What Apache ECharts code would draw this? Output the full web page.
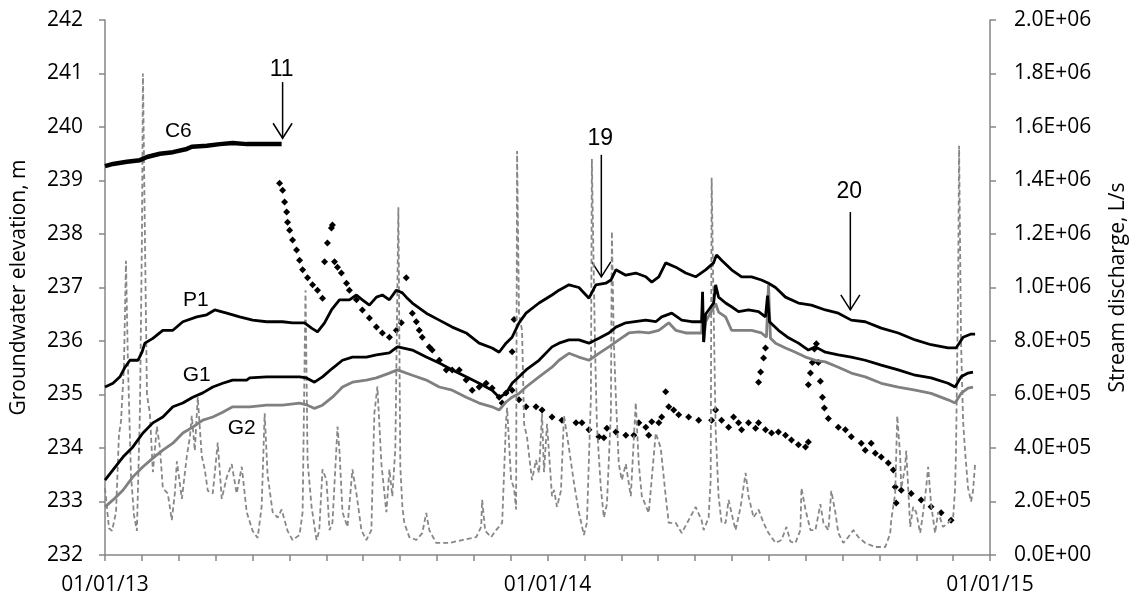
<!DOCTYPE html>
<html>
<head>
<meta charset="utf-8">
<title>Groundwater elevation and stream discharge</title>
<script src="https://cdn.jsdelivr.net/npm/echarts@6.0.0/dist/echarts.min.js"></script>
<style>
	html, body { margin: 0; padding: 0; background: #fff; }
	#chart { width: 1137px; height: 605px; }
</style>
</head>
<body>
<div id="chart"></div>
<script>
// x = days since 01/01/13
var xLabels = ['01/01/13', '01/01/14', '01/01/15'];

// C6 well, elevation m
var c6 = [[0,239.27],[6.6,239.31],[18.1,239.35],[28.8,239.38],[34.6,239.44],[45.3,239.50],[56,239.53],
	[67.5,239.59],[71.6,239.63],[84,239.65],[94.6,239.68],[105.3,239.70],[116.9,239.68],[133.3,239.68],[145.7,239.68]];

// P1 well
var p1 = [[0,235.14],[6.6,235.21],[12.3,235.33],[16.5,235.51],[20.6,235.64],[27.2,235.64],[30.5,235.79],[32.9,235.96],
	[39.5,236.05],[47.7,236.20],[56,236.20],[64.2,236.36],[75.7,236.45],[83.9,236.49],[90.5,236.58],[100.4,236.52],
	[111.1,236.45],[121.8,236.39],[133.3,236.36],[146.5,236.36],[154.7,236.34],[164.6,236.34],[170.4,236.24],
	[175.3,236.17],[181.1,236.34],[186.8,236.58],[193.4,236.77],[201.6,236.77],[207.4,236.86],[212.3,236.77],
	[218.1,236.67],[223.9,236.82],[228.8,236.86],[234.6,236.77],[240.3,236.95],[245.3,236.90],[248.5,236.82],
	[253.5,236.71],[265,236.52],[275.7,236.39],[286.4,236.26],[297.9,236.15],[308.6,235.96],[319.3,235.87],
	[325.1,235.79],[330.8,235.96],[335.8,236.07],[341.5,236.34],[347.3,236.52],[358,236.71],[368.7,236.86],
	[374.5,236.95],[382.7,237.05],[390.9,237.00],[399.2,236.80],[404.9,237.05],[413.1,237.08],[417.3,237.14],
	[421.4,237.33],[429.6,237.23],[437.8,237.27],[446.1,237.20],[451,237.10],[456.8,237.20],[462.5,237.46],
	[470.8,237.38],[479,237.27],[487.2,237.20],[495.4,237.33],[502,237.46],[504.4,237.61],[508.6,237.51],
	[516.8,237.33],[525.1,237.20],[533.3,237.20],[541.5,237.14],[547.3,237.08],[553.1,237.00],[561.3,236.82],
	[572,236.71],[582.7,236.67],[594.2,236.58],[604.9,236.52],[615.6,236.39],[627.1,236.36],[640.3,236.24],
	[654.3,236.15],[668.3,236.02],[681.4,235.93],[695.4,235.87],[702,235.87],[705.3,235.98],[707.8,236.07],
	[714.4,236.13],[717.7,236.13]];

// G1 well
var g1 = [[0,233.40],[6.6,233.59],[14.8,233.83],[23,234.02],[31.3,234.28],[39.5,234.47],[47.7,234.58],[56,234.77],
	[64.2,234.84],[72.4,234.95],[80.7,235.03],[88.9,235.14],[97.1,235.21],[105.3,235.27],[116.9,235.27],
	[119.3,235.31],[133.3,235.33],[146.5,235.33],[160.5,235.33],[166.2,235.31],[172.8,235.23],[179.4,235.33],
	[187.6,235.49],[195.9,235.64],[204.1,235.70],[215.6,235.70],[223.9,235.74],[234.6,235.78],[241.1,235.89],
	[245.3,235.87],[253.5,235.83],[265,235.70],[275.7,235.59],[286.4,235.46],[297.9,235.33],[308.6,235.21],
	[319.3,235.08],[325.1,234.95],[330.8,235.02],[335.8,235.21],[341.5,235.33],[347.3,235.46],[358,235.64],
	[368.7,235.89],[374.5,235.96],[382.7,236.02],[390.9,236.02],[399.2,235.96],[407.4,236.05],[415.6,236.15],
	[421.4,236.26],[429.6,236.34],[446.1,236.39],[454.3,236.36],[459.2,236.45],[467.5,236.52],[475.7,236.39],
	[483.9,236.36],[492.1,236.36],[492.9,236.92],[493.8,235.98],[495.4,236.50],[502,236.71],[503.7,237.05],
	[506.1,236.82],[511.9,236.71],[516.8,236.64],[522.6,236.55],[530.8,236.58],[539.1,236.55],[544.8,236.45],
	[546.5,236.85],[548.1,236.36],[555.5,236.20],[563.8,236.06],[572,235.96],[580.2,235.83],[586,235.89],
	[594.2,235.79],[604.9,235.74],[615.6,235.70],[627.1,235.64],[640.3,235.55],[654.3,235.46],[668.3,235.36],
	[681.4,235.31],[695.4,235.21],[701.2,235.14],[706.1,235.33],[711.9,235.40],[716,235.42]];

// G2 well
var g2 = [[0,232.90],[6.6,233.03],[14.8,233.21],[23,233.46],[31.3,233.65],[39.5,233.81],[47.7,233.96],[56,234.09],
	[64.2,234.28],[72.4,234.39],[80.7,234.52],[88.9,234.58],[97.1,234.67],[105.3,234.77],[119.3,234.77],
	[133.3,234.80],[146.5,234.80],[160.5,234.84],[167.1,234.80],[172.8,234.74],[179.4,234.80],[187.6,234.95],
	[195.9,235.14],[204.1,235.23],[215.6,235.27],[223.9,235.31],[234.6,235.40],[241.1,235.46],[253.5,235.36],
	[265,235.27],[275.7,235.14],[286.4,235.08],[297.9,234.95],[308.6,234.84],[319.3,234.77],[325.1,234.71],
	[330.8,234.86],[335.8,234.95],[341.5,235.02],[347.3,235.14],[358,235.33],[368.7,235.51],[374.5,235.64],
	[382.7,235.77],[390.9,235.70],[399.2,235.64],[407.4,235.77],[415.6,235.89],[423.8,236.02],[432.1,236.15],
	[440.3,236.17],[448.5,236.15],[456.8,236.20],[465,236.34],[470.8,236.20],[479,236.15],[492.1,236.15],
	[492.9,236.60],[493.8,235.98],[495.4,236.36],[503.7,236.70],[506.1,236.54],[511.9,236.45],[516.8,236.20],
	[525.1,236.20],[533.3,236.20],[541.5,236.15],[545.6,236.07],[547.3,237.05],[548.9,236.05],[553.1,235.96],
	[561.3,235.87],[569.5,235.79],[577.8,235.70],[586,235.64],[594.2,235.61],[604.9,235.51],[615.6,235.40],
	[627.1,235.33],[640.3,235.21],[654.3,235.14],[668.3,235.08],[681.4,235.02],[695.4,234.90],[701.2,234.84],
	[706.1,235.02],[711.9,235.12],[716,235.14]];

// well 11 logger readings (markers only)
var w11 = [[144,238.95],[146.5,238.82],[148.1,238.60],[149.8,238.41],[150.6,238.22],[152.3,238.07],[154.7,237.89],
	[158,237.70],[160.5,237.51],[163,237.33],[167.1,237.18],[171.2,237.05],[175.3,236.95],[179.4,236.80],
	[181.1,237.48],[183.5,237.83],[186.8,238.11],[187.6,238.17],[189.3,237.48],[191.8,237.38],[195,237.27],
	[199.2,237.08],[201.6,236.95],[207.4,236.77],[212.3,236.58],[218.1,236.43],[223.9,236.26],[228.8,236.15],
	[234.6,236.07],[240.3,236.20],[244.4,236.34],[248.5,237.18],[253.5,236.52],[256.8,236.36],[259.2,236.20],
	[261.7,236.07],[267.5,235.89],[269.9,235.83],[275.7,235.64],[281.5,235.46],[286.4,235.46],[292.2,235.46],
	[297.9,235.27],[302.9,235.08],[308.6,235.14],[314.4,235.21],[319.3,235.12],[325.1,234.95],[327.6,234.84],
	[330.8,235.03],[335.8,235.08],[337.4,236.40],[335.8,235.80],[341.5,234.90],[347.3,234.77],[355.5,234.77],
	[360.5,234.71],[368.7,234.58],[376.9,234.52],[388.5,234.47],[393.4,234.47],[399.2,234.34],[407.4,234.21],
	[411.5,234.19],[414,234.37],[421.4,234.30],[429.6,234.24],[436.2,234.24],[440.3,234.47],[446.1,234.39],
	[448.5,234.24],[451,234.49],[456.8,234.47],[459.2,234.58],[462.5,235.05],[465,234.77],[469.1,234.71],
	[473.2,234.62],[481.4,234.58],[489.7,234.52],[500.4,234.52],[503.7,234.71],[508.6,234.52],[514.4,234.39],
	[518.5,234.58],[522.6,234.47],[525.1,234.34],[530.8,234.47],[536.6,234.37],[539.1,234.47],[544.8,234.34],
	[549.8,234.28],[555.5,234.30],[561.3,234.24],[566.2,234.15],[572,234.06],[577.8,234.02],[580.2,234.11],
	[539.1,235.23],[540.8,235.42],[543.2,235.68],[544.8,235.87],
	[580.2,235.18],[581.9,235.40],[583.5,235.60],[585.2,235.85],[586.8,235.95],[588.4,235.60],[590.1,235.25],
	[591.8,234.95],[593.4,234.75],[596.7,234.55],[604.9,234.39],[610.7,234.34],[615.6,234.21],[623.8,234.09],
	[627.1,233.96],[632,234.09],[635.4,233.90],[640.3,233.83],[646.1,233.72],[650.2,233.59],[651.8,233.27],
	[652.6,232.97],[656.8,233.21],[665,233.15],[673.2,233.03],[681.4,232.90],[689.7,232.79],[697.9,232.65]];

// stream discharge, L/s (right axis)
var discharge = [[0,2.5e5],[3.3,1.0e5],[5.8,0.9e5],[9.1,1.6e5],[11.5,4.5e5],[13.2,5.0e5],[15.6,7.0e5],[17.3,11.0e5],
	[18.9,7.2e5],[21.4,3.0e5],[23.9,1.5e5],[26.3,0.9e5],[28.8,5.3e5],[30.5,12e5],[31.3,18.0e5],[32.9,12e5],
	[34.6,6.0e5],[37,5.3e5],[39.5,3.1e5],[42.8,4.8e5],[45.3,4.0e5],[47.7,2.5e5],[51.8,2.3e5],[55.1,1.3e5],
	[57.6,2.3e5],[59.3,3.5e5],[63.4,2.1e5],[67.5,3.7e5],[70,4.4e5],[71.6,5.2e5],[74.1,3.9e5],[76.5,5.9e5],
	[79.8,3.7e5],[82.3,3.2e5],[84.8,2.4e5],[88.9,2.3e5],[93,4.2e5],[96.3,2.1e5],[100.4,2.9e5],[104.5,3.4e5],
	[108.6,2.3e5],[112.8,3.3e5],[116.9,1.6e5],[121.8,0.9e5],[125.9,0.64e5],[129.2,1.8e5],[131.7,5.3e5],
	[134.1,3.0e5],[138.3,1.6e5],[142.4,1.4e5],[145.7,1.7e5],[150.6,0.9e5],[154.7,0.56e5],[160.5,0.75e5],
	[163,1.6e5],[165.4,9.9e5],[167.1,3.5e5],[170.4,1.8e5],[174.5,0.56e5],[176.7,0.9e5],[179.4,3.2e5],
	[182.7,2.8e5],[185.2,0.93e5],[187.6,1.2e5],[191.8,4.8e5],[193.4,3.9e5],[195.9,1.6e5],[200,1.05e5],
	[204.1,3.2e5],[207.4,2.3e5],[211.5,0.93e5],[215.6,0.56e5],[219.7,0.93e5],[222.2,5.3e5],[224.7,6.3e5],
	[228,3.4e5],[232.1,1.6e5],[234.6,3.2e5],[237,2.2e5],[239.5,4.0e5],[242,13.0e5],[243.6,3.3e5],[245.3,1.8e5],
	[246.9,1.2e5],[251,0.67e5],[256.8,0.56e5],[261.7,0.82e5],[265,1.57e5],[267.5,0.93e5],[273.2,0.45e5],
	[283.9,0.45e5],[294.6,0.56e5],[306.2,0.67e5],[310.3,1.05e5],[311.1,2.06e5],[313.6,0.9e5],[318.5,0.67e5],
	[322.6,0.93e5],[327.6,1.2e5],[330.8,5.0e5],[331.7,5.5e5],[335,2.8e5],[337.4,2.5e5],[339.1,1.7e5],
	[339.9,15.1e5],[341.5,9.0e5],[344,8.4e5],[345.7,4.9e5],[348.1,4.4e5],[352.2,2.8e5],[355.5,3.55e5],
	[358,3.07e5],[360.5,5.3e5],[362.1,3.1e5],[364.6,4.9e5],[368.7,2.2e5],[370.4,2.43e5],[372.8,1.8e5],
	[376.1,2.4e5],[378.6,5.2e5],[382.7,4.0e5],[386.8,2.7e5],[390.9,1.6e5],[395,0.75e5],[397.5,1.2e5],
	[400.8,5.9e5],[401.6,14.8e5],[404.1,8.0e5],[405.7,4.9e5],[409,2.5e5],[411.5,1.4e5],[414,1.9e5],[417.3,5.3e5],
	[418.1,12.1e5],[419.7,8.0e5],[421.4,5.9e5],[423.8,3.4e5],[426.3,2.8e5],[429.6,3.4e5],[433.7,2.2e5],
	[437.8,5.7e5],[440.3,3.4e5],[442.8,2.2e5],[448.5,1.57e5],[454.3,4.56e5],[458.4,4.0e5],[462.5,2.2e5],
	[465,1.2e5],[470.8,1.2e5],[475.7,0.82e5],[481.4,1.3e5],[487.2,1.8e5],[492.1,1.3e5],[493.8,0.93e5],
	[497.9,1.4e5],[499.6,2.8e5],[500.4,14.1e5],[502.1,9.0e5],[503.7,4.7e5],[506.1,2.2e5],[508.6,1.2e5],
	[511.9,1.2e5],[514.4,2.06e5],[516.8,1.57e5],[520.1,0.93e5],[524.3,1.8e5],[528.4,3.07e5],[530.8,2.2e5],
	[535,1.4e5],[539.1,1.7e5],[543.2,1.2e5],[547.3,0.82e5],[553.1,0.45e5],[558,0.56e5],[562.1,1.05e5],
	[565.4,0.5e5],[569.5,0.45e5],[573.6,0.93e5],[574.5,2.5e5],[577.8,1.7e5],[581.9,0.93e5],[586,0.93e5],
	[590.1,1.9e5],[592.6,1.2e5],[596.7,0.93e5],[599.1,2.4e5],[602.4,1.6e5],[604.9,0.82e5],[609,0.45e5],
	[613.1,0.67e5],[617.3,0.93e5],[621.4,0.67e5],[627.1,0.45e5],[635.4,0.3e5],[643.6,0.3e5],[647.7,0.8e5],
	[648.5,1.3e5],[651.8,2.3e5],[653.5,5.2e5],[655.9,3.7e5],[656.8,2.5e5],[660,3.3e5],[660.9,3.9e5],
	[664.2,1.05e5],[666.6,1.8e5],[669.1,1.6e5],[672.4,0.82e5],[674.9,1.6e5],[677.3,2.5e5],[679,3.3e5],
	[681.4,1.9e5],[684.7,0.82e5],[687.2,1.6e5],[691.3,1.05e5],[695.4,1.2e5],[699.6,1.4e5],[701.2,2.5e5],
	[702,4.0e5],[703.7,10e5],[704.5,15.3e5],[706.1,8.0e5],[707.8,5.0e5],[709.4,3.9e5],[711.9,2.5e5],
	[714.4,2.0e5],[716,2.4e5],[717.7,3.4e5]];

// arrows: label, day, text elevation, arrow top, arrow tip
var arrowNames = ['11', '19', '20'];
var arrowDays = [146.5, 409.4, 614.8];
var arrowTextY = [241.07, 239.79, 238.79];
var arrowTopY = [240.84, 239.48, 238.41];
var arrowTipY = [239.79, 237.20, 236.58];

// well name labels
var wellNames = ['C6', 'P1', 'G1', 'G2'];
var wellDays = [60.5, 74.9, 75.7, 112.8];
var wellY = [239.93, 236.77, 235.36, 234.37];

var labelFont = 'Open Sans';
var axisColor = '#868686';

function fmtSci(v) {
	// 2000000 -> 2.0E+06
	var s = v.toExponential(1).toUpperCase();
	return s.replace(/E([+-])(\d)$/, 'E$10$2');
}

function xLabel(v) {
	var k = Math.round(v / 365);
	if (Math.abs(v - k * 365) < 0.5 && xLabels[k]) return xLabels[k];
	return '';
}

var myChart = echarts.init(document.getElementById('chart'), null, {renderer: 'canvas'});

var arrowData = arrowDays.map(function (d, i) {
	return [d, arrowTextY[i], arrowTopY[i], arrowTipY[i]];
});
var wellData = wellDays.map(function (d, i) {
	return [d, wellY[i]];
});

myChart.setOption({
	backgroundColor: '#fff',
	animation: false,
	grid: {left: 105, right: 145, top: 20, bottom: 50},
	xAxis: {
		type: 'value',
		min: 0,
		max: 730,
		interval: 730 / 24,
		axisLine: {show: true, lineStyle: {color: axisColor, width: 1.5}},
		axisTick: {show: true, length: 6, lineStyle: {color: axisColor, width: 1.5}},
		splitLine: {show: false},
		axisLabel: {
			margin: 20,
			color: '#000',
			fontSize: 21,
			fontFamily: labelFont,
			formatter: xLabel
		}
	},
	yAxis: [
		{
			type: 'value',
			min: 232,
			max: 242,
			interval: 1,
			name: 'Groundwater elevation, m',
			nameLocation: 'middle',
			nameGap: 75,
			nameTextStyle: {color: '#000', fontSize: 21, fontFamily: labelFont},
			axisLine: {show: true, lineStyle: {color: axisColor, width: 1.5}},
			axisTick: {show: true, length: 6, lineStyle: {color: axisColor, width: 1.5}},
			splitLine: {show: false},
			axisLabel: {margin: 22, color: '#000', fontSize: 21, fontFamily: labelFont}
		},
		{
			type: 'value',
			position: 'right',
			min: 0,
			max: 2000000,
			interval: 200000,
			name: 'Stream discharge, L/s',
			nameLocation: 'middle',
			nameGap: 118,
			nameTextStyle: {color: '#000', fontSize: 21, fontFamily: labelFont},
			axisLine: {show: true, lineStyle: {color: axisColor, width: 1.5}},
			axisTick: {show: true, length: 6, lineStyle: {color: axisColor, width: 1.5}},
			splitLine: {show: false},
			axisLabel: {margin: 24, color: '#000', fontSize: 21, fontFamily: labelFont, formatter: fmtSci}
		}
	],
	series: [
		{
			name: 'Stream discharge',
			type: 'line',
			yAxisIndex: 1,
			data: discharge,
			symbol: 'none',
			lineStyle: {color: '#878787', width: 1.8, type: [5, 3]}
		},
		{
			name: 'G2',
			type: 'line',
			data: g2,
			symbol: 'none',
			lineStyle: {color: '#808080', width: 2.8}
		},
		{
			name: 'G1',
			type: 'line',
			data: g1,
			symbol: 'none',
			lineStyle: {color: '#000', width: 2.8}
		},
		{
			name: 'P1',
			type: 'line',
			data: p1,
			symbol: 'none',
			lineStyle: {color: '#000', width: 2.8}
		},
		{
			name: 'C6',
			type: 'line',
			data: c6,
			symbol: 'none',
			lineStyle: {color: '#000', width: 4.5}
		},
		{
			name: 'Well 11',
			type: 'scatter',
			data: w11,
			symbol: 'diamond',
			symbolSize: 7,
			itemStyle: {color: '#000', opacity: 1}
		},
		{
			// arrows with numbers
			type: 'custom',
			data: arrowData,
			silent: true,
			renderItem: function (params, api) {
				var txt = api.coord([api.value(0), api.value(1)]);
				var top = api.coord([api.value(0), api.value(2)]);
				var tip = api.coord([api.value(0), api.value(3)]);
				return {
					type: 'group',
					children: [
						{type: 'line', shape: {x1: top[0], y1: top[1], x2: tip[0], y2: tip[1]},
							style: {stroke: '#000', lineWidth: 1.5}},
						{type: 'polyline', shape: {points: [[tip[0] - 9.5, tip[1] - 15], [tip[0], tip[1]], [tip[0] + 9.5, tip[1] - 15]]},
							style: {stroke: '#000', fill: 'none', lineWidth: 1.5}},
						{type: 'text', x: txt[0] - 1, y: txt[1],
							style: {text: arrowNames[params.dataIndex], fill: '#000', fontSize: 23,
								fontFamily: 'Liberation Sans', align: 'center', verticalAlign: 'middle'}}
					]
				};
			}
		},
		{
			// well names
			type: 'custom',
			data: wellData,
			silent: true,
			renderItem: function (params, api) {
				var p = api.coord([api.value(0), api.value(1)]);
				return {
					type: 'text', x: p[0], y: p[1],
					style: {text: wellNames[params.dataIndex], fill: '#000', fontSize: 21,
						fontFamily: 'Liberation Sans', align: 'center', verticalAlign: 'middle'}
				};
			}
		}
	]
});

window.addEventListener('resize', function () {
	myChart.resize();
});
</script>
</body>
</html>
